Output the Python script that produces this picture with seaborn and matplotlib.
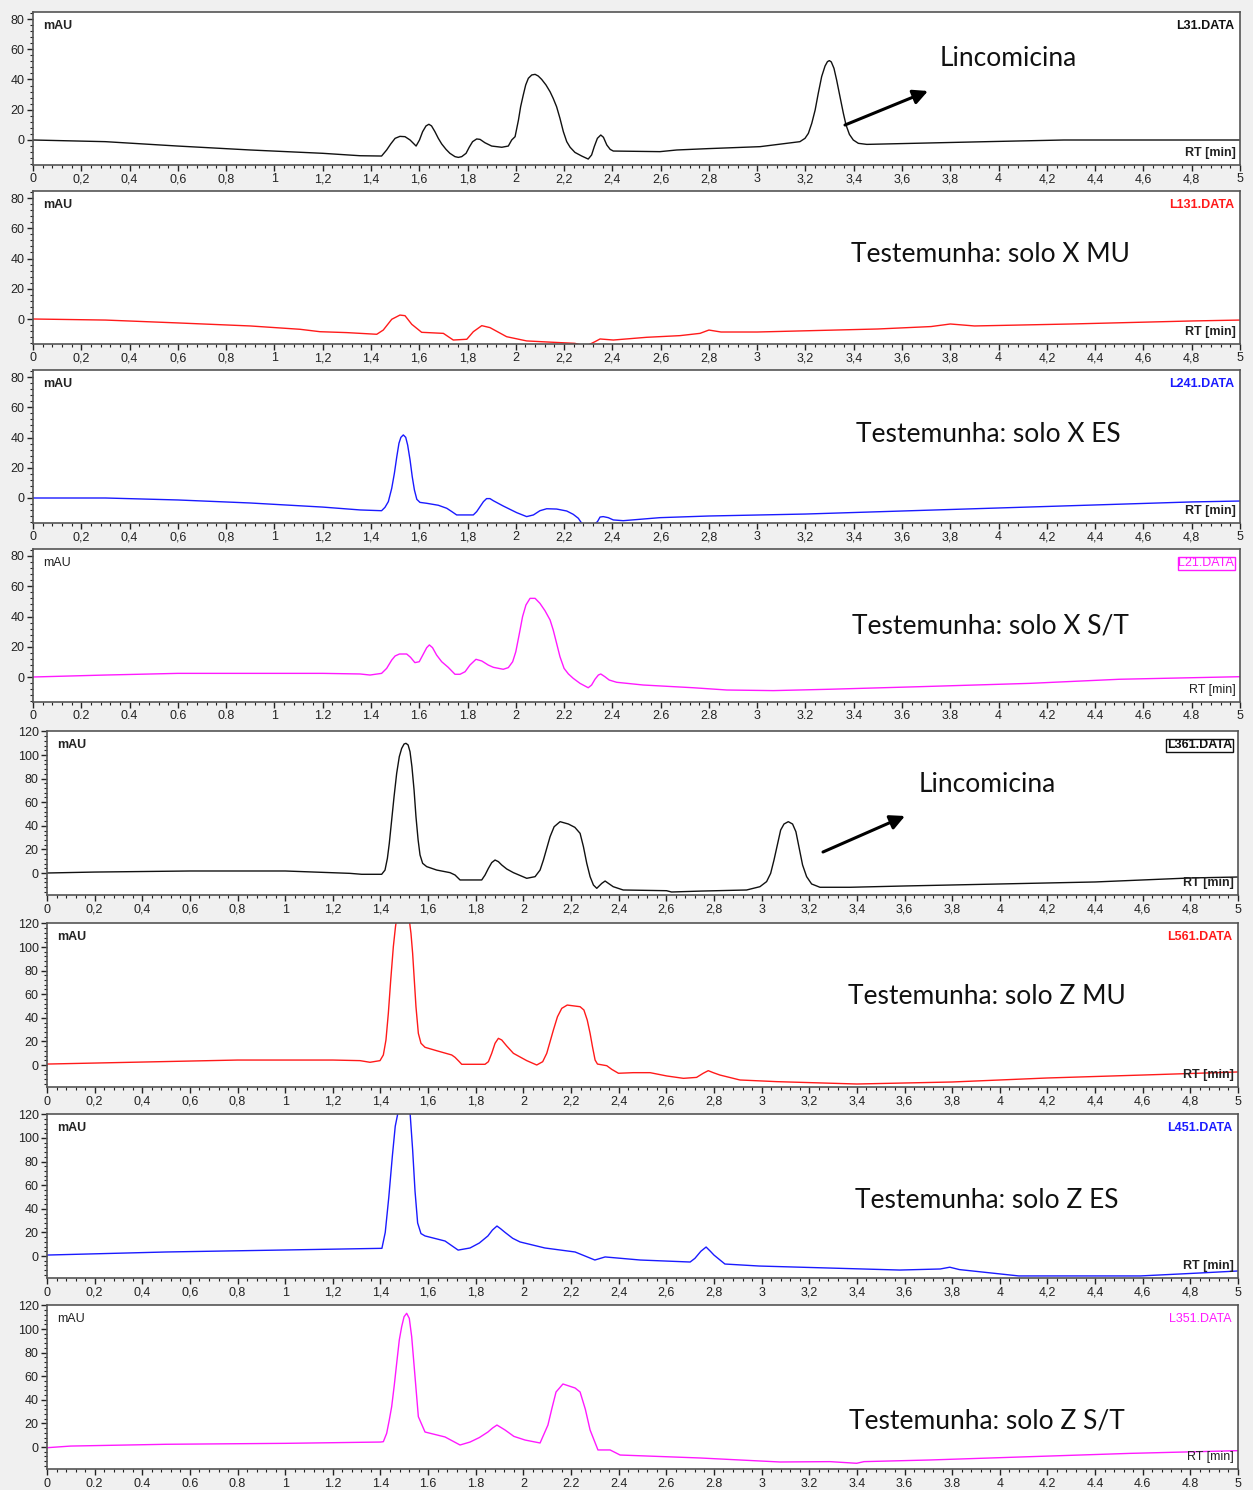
import matplotlib
matplotlib.use("Agg")
import matplotlib.pyplot as plt
from matplotlib.ticker import MultipleLocator, FuncFormatter
import seaborn as sns

# chromatogram traces: retention time (min) and signal (mAU)
rt_l31 = [0, 0.3, 0.6, 0.9, 1.2, 1.355, 1.444, 1.465, 1.482, 1.500, 1.520, 1.541, 1.562, 1.587, 1.601,
          1.614, 1.628, 1.640, 1.651, 1.665, 1.679, 1.693, 1.711, 1.727, 1.748, 1.762, 1.776, 1.794, 1.807,
          1.821, 1.838, 1.852, 1.872, 1.900, 1.942, 1.969, 1.983, 1.997, 2.011, 2.020, 2.031, 2.041, 2.052,
          2.066, 2.080, 2.093, 2.107, 2.125, 2.142, 2.155, 2.169, 2.183, 2.197, 2.211, 2.225, 2.245, 2.273,
          2.300, 2.314, 2.325, 2.338, 2.352, 2.363, 2.377, 2.391, 2.404, 2.597, 2.667, 2.797, 3.012, 3.177,
          3.198, 3.212, 3.226, 3.240, 3.253, 3.267, 3.281, 3.291, 3.299, 3.307, 3.318, 3.329, 3.343, 3.357,
          3.368, 3.382, 3.398, 3.419, 3.454, 3.95, 4.27, 5.0]
mau_l31 = [0, -1.1, -4, -6.6, -8.8, -10.4, -10.6, -6.6, -2.6, 1.1, 2.4, 2.2, 0, -4.0, 0,
           5.5, 9.3, 10.4, 9.3, 5.5, 1.1, -2.6, -6.2, -8.8, -11.0, -11.5, -11.0, -8.8, -4.8,
           -1.1, 0.7, 0.4, -1.8, -4.0, -4.8, -4.0, 0, 2.2, 13.2, 22.0, 29.8, 36.4, 40.8,
           43.0, 43.4, 42.3, 40.1, 36.4, 31.9, 27.5, 22.0, 14.3, 5.5, -1.1, -4.8, -8.2, -10.6,
           -12.6, -9.9, -4.4, 1.1, 3.3, 1.8, -3.3, -6.2, -7.3, -7.7, -6.6, -5.7, -4.4, -1.1,
           1.1, 4.4, 11.0, 19.8, 30.9, 41.9, 48.9, 51.8, 52.5, 51.6, 47.4, 39.7, 28.6, 17.6,
           9.9, 3.7, 0, -2.2, -2.9, -1.1, 0, 0]

rt_l131 = [0, 0.3, 0.6, 0.9, 1.106, 1.189, 1.30, 1.424, 1.451, 1.486, 1.520, 1.541, 1.569, 1.610, 1.700,
           1.741, 1.797, 1.824, 1.859, 1.893, 1.962, 2.045, 2.155, 2.245, 2.29, 2.328, 2.349, 2.404, 2.542,
           2.680, 2.763, 2.80, 2.85, 3.0, 3.5, 3.72, 3.8, 3.9, 4.3, 4.8, 5.0]
mau_l131 = [0, -0.7, -2.6, -4.6, -6.8, -8.4, -9, -10.1, -7.3, -0.2, 2.6, 2.2, -3.5, -8.8, -9.5,
            -13.9, -13.4, -8.4, -4.4, -5.7, -11.7, -14.5, -15.4, -16.1, -18, -15, -13.2, -13.9, -12.1,
            -11, -9.5, -7.3, -8.6, -8.6, -6.6, -5, -3.3, -4.6, -3.3, -1.3, -0.7]

rt_l241 = [0, 0.3, 0.6, 0.9, 1.2, 1.355, 1.444, 1.458, 1.472, 1.486, 1.497, 1.507, 1.516, 1.524, 1.534,
           1.544, 1.552, 1.562, 1.571, 1.580, 1.590, 1.603, 1.631, 1.679, 1.714, 1.735, 1.755, 1.824, 1.838,
           1.852, 1.866, 1.879, 1.893, 1.907, 1.948, 2.004, 2.045, 2.073, 2.100, 2.128, 2.169, 2.211, 2.238,
           2.259, 2.273, 2.31, 2.338, 2.349, 2.362, 2.383, 2.404, 2.445, 2.528, 2.597, 2.8, 3.2, 3.6,
           4.0, 4.4, 4.8, 5.0]
mau_l241 = [0, 0, -1.3, -3.3, -6, -7.9, -8.4, -6.2, -2.4, 6.4, 16.3, 27.3, 36.2, 40.1, 41.7,
            40.1, 35.0, 25.1, 14.1, 5.3, -0.9, -2.9, -3.5, -4.8, -6.8, -9.0, -11.2, -11.2, -9.0,
            -5.7, -2.4, -0.4, -0.4, -1.8, -5.3, -9.7, -12.3, -11.2, -8.4, -7.1, -7.3, -8.6, -10.8,
            -13.4, -16.7, -19, -15.7, -12.6, -12.3, -13, -14.5, -15.0, -13.9, -13.0, -11.9, -10.6, -8.6,
            -6.6, -4.6, -2.6, -2]

rt_l21 = [0, 0.3, 0.6, 0.9, 1.2, 1.355, 1.396, 1.444, 1.465, 1.486, 1.500, 1.518, 1.548, 1.564, 1.582,
          1.600, 1.617, 1.631, 1.642, 1.655, 1.672, 1.693, 1.720, 1.748, 1.769, 1.790, 1.810, 1.835, 1.859,
          1.886, 1.907, 1.948, 1.969, 1.987, 2.000, 2.015, 2.028, 2.042, 2.059, 2.080, 2.100, 2.121, 2.142,
          2.155, 2.169, 2.183, 2.200, 2.218, 2.238, 2.266, 2.300, 2.314, 2.328, 2.342, 2.352, 2.369, 2.387,
          2.418, 2.528, 2.735, 2.874, 3.067, 3.30, 3.674, 4.13, 4.50, 5.0]
mau_l21 = [0, 1.3, 2.4, 2.4, 2.4, 2.0, 1.3, 2.4, 5.7, 11.2, 13.9, 15.2, 15.2, 13.0, 9.5,
           10.1, 15.2, 19.4, 21.2, 19.4, 14.5, 10.1, 6.4, 1.8, 1.8, 3.5, 7.9, 11.7, 10.6,
           7.9, 6.4, 5.1, 6.2, 10.1, 16.7, 28.9, 39.9, 47.6, 52.0, 52.0, 48.7, 43.8, 37.7,
           31.1, 22.3, 13.4, 5.7, 2.0, -0.9, -4.2, -7.1, -5.3, -1.5, 1.3, 2.0, 0.2, -2.0,
           -3.5, -5.3, -7.1, -8.6, -9.0, -8.1, -6.4, -4.2, -1.5, 0.2]

rt_l361 = [0, 0.2, 0.6, 1.0, 1.272, 1.321, 1.405, 1.419, 1.429, 1.437, 1.447, 1.457, 1.468, 1.479, 1.489,
           1.499, 1.507, 1.516, 1.524, 1.532, 1.541, 1.549, 1.558, 1.566, 1.577, 1.594, 1.636, 1.692, 1.713,
           1.734, 1.825, 1.839, 1.853, 1.867, 1.881, 1.895, 1.909, 1.930, 1.958, 2.014, 2.049, 2.070, 2.084,
           2.098, 2.112, 2.129, 2.154, 2.189, 2.216, 2.238, 2.252, 2.266, 2.280, 2.294, 2.308, 2.329, 2.343,
           2.357, 2.377, 2.419, 2.601, 2.622, 2.748, 2.937, 2.993, 3.021, 3.038, 3.052, 3.066, 3.080, 3.094,
           3.112, 3.130, 3.144, 3.158, 3.172, 3.189, 3.210, 3.245, 3.371, 3.6, 4.0, 4.4, 4.8, 5.0]
mau_l361 = [0, 0.8, 1.7, 1.7, -0.3, -1.1, -1.1, 2.5, 12.4, 25.1, 44.9, 64.7, 84.5, 98.6, 105.6,
            109.3, 109.9, 108.5, 102.8, 90.1, 70.3, 47.7, 28.0, 15.3, 8.2, 5.4, 2.5, 0.3, -1.7,
            -5.9, -5.9, -1.7, 3.9, 8.8, 11.0, 9.6, 6.8, 3.4, 0.3, -4.5, -3.1, 2.5, 11.0,
            20.9, 30.8, 39.2, 43.5, 41.5, 38.7, 33.6, 22.3, 8.2, -3.1, -10.2, -13.0, -8.8, -6.8,
            -8.8, -11.6, -14.4, -15.0, -16.1, -15.3, -14.4, -11.6, -7.3, -0.3, 11.0, 23.7, 36.4, 41.5,
            43.5, 41.5, 35.0, 20.9, 6.8, -3.1, -9.3, -12.1, -12.1, -11, -9.3, -7.6, -4.2, -3.4]

rt_l561 = [0, 0.4, 0.8, 1.2, 1.314, 1.356, 1.398, 1.412, 1.423, 1.433, 1.443, 1.454, 1.463, 1.478, 1.495,
           1.51, 1.521, 1.528, 1.535, 1.542, 1.549, 1.559, 1.570, 1.587, 1.636, 1.699, 1.713, 1.731, 1.741,
           1.839, 1.853, 1.867, 1.881, 1.895, 1.909, 1.930, 1.958, 2.014, 2.056, 2.081, 2.098, 2.112, 2.126,
           2.143, 2.161, 2.184, 2.238, 2.254, 2.268, 2.280, 2.290, 2.301, 2.311, 2.350, 2.371, 2.399, 2.461,
           2.532, 2.602, 2.672, 2.727, 2.755, 2.776, 2.797, 2.825, 2.909, 3.063, 3.4, 3.8, 4.2, 4.6, 5.0]
mau_l561 = [0.8, 2.5, 4.2, 4.2, 3.7, 2.3, 3.7, 8.5, 21.2, 43.8, 72.0, 100.3, 117.2, 138, 150,
            142, 122.9, 111.6, 94.6, 72.0, 49.4, 26.8, 18.4, 15.0, 12.1, 8.5, 6.5, 2.8, 0.6,
            0.6, 2.8, 9.9, 18.4, 22.6, 21.2, 16.1, 9.9, 3.7, 0, 2.8, 9.9, 19.8, 29.7,
            40.9, 48.0, 50.8, 49.4, 46.6, 38.1, 26.8, 15.5, 4.2, 0.8, -0.6, -3.7, -7.0, -6.5,
            -6.5, -9.3, -11.3, -10.5, -7.0, -4.8, -6.5, -8.5, -12.7, -14.1, -16.1, -14.4, -11, -8.5, -5.9]

rt_l451 = [0, 0.5, 1.0, 1.406, 1.42, 1.435, 1.45, 1.462, 1.474, 1.50, 1.524, 1.535, 1.545, 1.556, 1.57,
           1.587, 1.671, 1.726, 1.776, 1.815, 1.851, 1.870, 1.889, 1.905, 1.923, 1.955, 1.986, 2.09, 2.217,
           2.30, 2.343, 2.49, 2.70, 2.72, 2.745, 2.767, 2.785, 2.80, 2.846, 2.99, 3.58, 3.75, 3.79,
           3.83, 4.08, 4.59, 4.84, 5.0]
mau_l451 = [0.8, 3.4, 5.1, 6.5, 20, 50, 85, 110, 122, 145, 122, 90, 55, 28, 19,
            17, 12.7, 5, 6.8, 11, 17, 22, 25.4, 23, 20, 15, 11.9, 6.8, 3.4,
            -3.4, -0.8, -3.4, -5.1, -2, 4, 7.6, 4, 0.8, -6.8, -8.5, -11.9, -11, -9.5,
            -11.5, -16.9, -16.9, -14.4, -12.7]

rt_l351 = [0, 0.1, 0.5, 1.0, 1.4, 1.412, 1.426, 1.437, 1.447, 1.458, 1.468, 1.479, 1.489, 1.499, 1.510,
           1.521, 1.531, 1.545, 1.559, 1.587, 1.671, 1.734, 1.776, 1.815, 1.851, 1.870, 1.889, 1.923, 1.960,
           2.007, 2.07, 2.103, 2.120, 2.137, 2.166, 2.217, 2.238, 2.260, 2.28, 2.313, 2.364, 2.406, 2.741,
           3.077, 3.287, 3.399, 3.43, 3.707, 4.127, 4.547, 5.0]
mau_l351 = [-0.6, 0.8, 2.3, 3.1, 4.2, 4.5, 11.6, 22.9, 34.2, 52.5, 70.9, 90.7, 102, 110.4, 113.3,
            109, 93.5, 59.6, 25.7, 12.7, 8.5, 1.7, 4.2, 8, 12.7, 16, 18.6, 14.4, 9,
            5.9, 3.4, 18.6, 33, 46.6, 53.4, 50, 46.6, 32, 14.4, -2.5, -2.5, -6.8, -9.3,
            -12.7, -12.4, -13.8, -12.4, -11, -8.2, -5.4, -3.1]

file_names = ["L31.DATA", "L131.DATA", "L241.DATA", "L21.DATA",
              "L361.DATA", "L561.DATA", "L451.DATA", "L351.DATA"]
captions = ["Lincomicina", "Testemunha: solo X MU", "Testemunha: solo X ES", "Testemunha: solo X S/T",
            "Lincomicina", "Testemunha: solo Z MU", "Testemunha: solo Z ES", "Testemunha: solo Z S/T"]
traces = [(rt_l31, mau_l31), (rt_l131, mau_l131), (rt_l241, mau_l241), (rt_l21, mau_l21),
          (rt_l361, mau_l361), (rt_l561, mau_l561), (rt_l451, mau_l451), (rt_l351, mau_l351)]

W, H = 1253, 1490
BLACK, RED, BLUE, MAGENTA = "#111111", "#ff1a1a", "#1a1aff", "#ff1aff"

# per panel: colour, decimal separator, bold labels, boxed file name
styles = [
    dict(color=BLACK, sep=",", bold=True, boxed=False),
    dict(color=RED, sep=",", bold=True, boxed=False),
    dict(color=BLUE, sep=",", bold=True, boxed=False),
    dict(color=MAGENTA, sep=".", bold=False, boxed=True),
    dict(color=BLACK, sep=",", bold=True, boxed=True),
    dict(color=RED, sep=",", bold=True, boxed=False),
    dict(color=BLUE, sep=",", bold=True, boxed=False),
    dict(color=MAGENTA, sep=".", bold=False, boxed=False),
]

# pixel row of the 0 mAU line in each panel
upper_zero = [140, 319, 498, 677]
lower_zero = [873, 1065, 1256, 1447]

sns.set_theme(style="white")
plt.rcParams["font.family"] = ["Liberation Sans", "DejaVu Sans"]

fig = plt.figure(figsize=(W / 100, H / 100), dpi=100, facecolor="#f0f0f0")


def tick_fmt(sep):
    def f(v, pos):
        if abs(v - round(v)) < 1e-9:
            return "%d" % round(v)
        return ("%.1f" % v).replace(".", sep)
    return FuncFormatter(f)


for i, ((rt, mau), st) in enumerate(zip(traces, styles)):
    if i < 4:
        left, right = 33, 1240
        ylo, yhi, pxu = -16.5, 84.5, 1.5125
        zero = upper_zero[i]
    else:
        left, right = 47, 1238
        ylo, yhi, pxu = -19, 120, 1.18
        zero = lower_zero[i - 4]
    top = zero - yhi * pxu
    bottom = zero - ylo * pxu
    ax = fig.add_axes([left / W, 1 - bottom / H, (right - left) / W, (bottom - top) / H])
    ax.set_facecolor("white")

    sns.lineplot(x=rt, y=mau, ax=ax, color=st["color"], linewidth=1.0,
                 estimator=None, sort=False)
    ax.set_xlim(0, 5)
    ax.set_ylim(ylo, yhi)
    ax.set_xlabel("")
    ax.set_ylabel("")

    ax.xaxis.set_major_locator(MultipleLocator(0.2))
    ax.xaxis.set_minor_locator(MultipleLocator(0.04))
    ax.yaxis.set_major_locator(MultipleLocator(20))
    ax.yaxis.set_minor_locator(MultipleLocator(4))
    ax.xaxis.set_major_formatter(tick_fmt(st["sep"]))
    ax.yaxis.set_major_formatter(tick_fmt(st["sep"]))
    ax.tick_params(which="major", direction="out", length=4, width=1, color="#222222",
                   labelsize=9, labelcolor="#222222", pad=2)
    ax.tick_params(which="minor", direction="out", length=2, width=0.8, color="#222222")
    ax.tick_params(axis="x", which="both", bottom=True)
    ax.tick_params(axis="y", which="both", left=True)
    for sp in ax.spines.values():
        sp.set_color("#555555")
        sp.set_linewidth(1.2)

    weight = "bold" if st["bold"] else "normal"
    ax.annotate("mAU", xy=(0, 1), xycoords="axes fraction", xytext=(10, -8),
                textcoords="offset pixels", ha="left", va="top", fontsize=9,
                fontweight=weight, color="#222222")
    box = None
    if st["boxed"]:
        box = dict(boxstyle="square,pad=0.05", fc="none", ec=st["color"], lw=1)
    ax.annotate(file_names[i], xy=(1, 1), xycoords="axes fraction", xytext=(-6, -8),
                textcoords="offset pixels", ha="right", va="top", fontsize=9,
                fontweight=weight, color=st["color"], bbox=box)
    ax.annotate("RT [min]", xy=(1, 0), xycoords="axes fraction", xytext=(-4, 12),
                textcoords="offset pixels", ha="right", va="center", fontsize=9,
                fontweight=weight, color="#222222")

# captions in the Calibri-like font
caption_pos = [(1008, 58), (990, 255), (988, 434), (990, 626),
               (987, 784), (987, 996), (987, 1201), (987, 1421)]
for (cx, cy), txt in zip(caption_pos, captions):
    fig.text(cx / W, 1 - cy / H, txt, ha="center", va="center", fontsize=19,
             family=["Lato", "DejaVu Sans"], color="#111111")

# arrows pointing at the lincomycin peak
for (x0, y0), (x1, y1) in [((845, 125), (928, 91)), ((823, 852), (905, 816))]:
    fig.add_artist(plt.Annotation("", xy=(x1 / W, 1 - y1 / H), xycoords="figure fraction",
                                  xytext=(x0 / W, 1 - y0 / H), textcoords="figure fraction",
                                  arrowprops=dict(arrowstyle="-|>", color="black", lw=2.2,
                                                  mutation_scale=22, shrinkA=0, shrinkB=0)))

fig.savefig("out.png", dpi=100, facecolor=fig.get_facecolor())
